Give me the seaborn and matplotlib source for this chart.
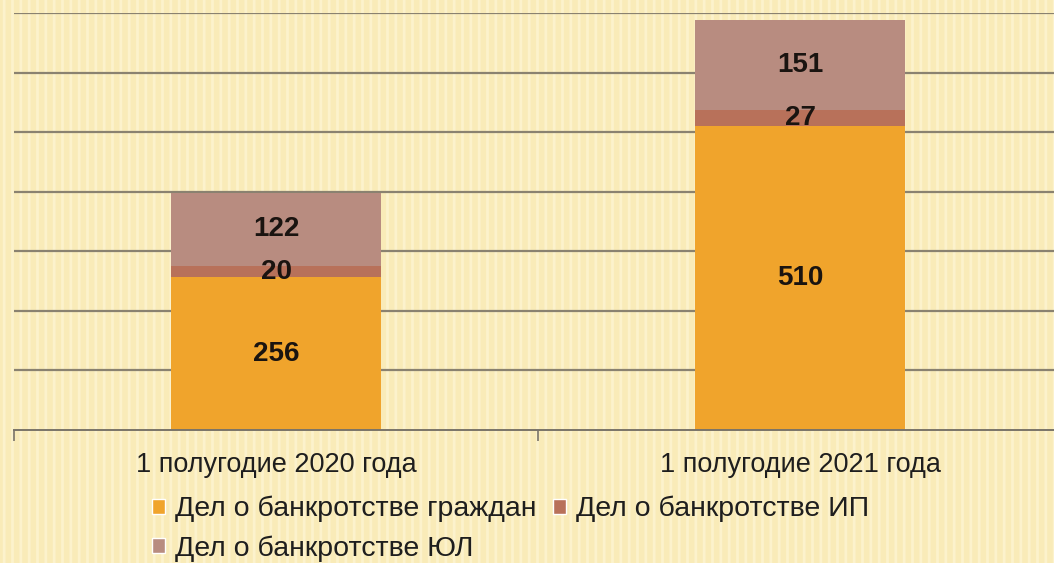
import numpy as np
import pandas as pd
import matplotlib
matplotlib.use("Agg")
import matplotlib.pyplot as plt
from matplotlib.patches import Patch, Rectangle
import seaborn as sns

# данные
categories = ['1 полугодие 2020 года', '1 полугодие 2021 года']
grazhdan = [256, 510]
ip = [20, 27]
ul = [122, 151]
series_names = ['Дел о банкротстве граждан', 'Дел о банкротстве ИП', 'Дел о банкротстве ЮЛ']
colors = ['#F0A42C', '#B8715A', '#B88C80']

sns.set_theme(style='white')
plt.rcParams['font.family'] = ['Liberation Sans', 'DejaVu Sans']
plt.rcParams['hatch.linewidth'] = 2.0

df = pd.DataFrame({'cat': categories, 'g': grazhdan, 'ip': ip, 'ul': ul})
df['g_ip'] = df['g'] + df['ip']
df['total'] = df['g_ip'] + df['ul']

fig = plt.figure(figsize=(10.54, 5.63), dpi=100)
fig.patch.set_facecolor('#F8E8AE')
# фон с полосками
fig.patches.append(Rectangle((0, 0), 1, 1, transform=fig.transFigure, facecolor='#F9EBB8',
                             edgecolor='#FCF2CC', hatch='||', lw=0, zorder=-10))

ax = fig.add_axes([14/1054, 1-430/563, (1062-14)/1054, (430-13)/563])
ax.set_facecolor('none')

# накопленные столбцы, сверху вниз
kw = dict(width=0.4, saturation=1, ax=ax, zorder=3, linewidth=0, edgecolor='none')
sns.barplot(data=df, x='cat', y='total', color=colors[2], **kw)
sns.barplot(data=df, x='cat', y='g_ip', color=colors[1], **kw)
sns.barplot(data=df, x='cat', y='g', color=colors[0], **kw)

ax.set_ylim(0, 700)
ax.set_xlim(-0.5, 1.5)
ax.set_yticks(range(100, 701, 100))
ax.set_yticklabels([])
ax.yaxis.grid(True, color='#8A8270', lw=1.6, zorder=0)
ax.set_axisbelow(True)
for s in ['left', 'top', 'right']:
    ax.spines[s].set_visible(False)
ax.spines['bottom'].set_color('#7A7468')
ax.spines['bottom'].set_linewidth(1.4)
ax.spines['bottom'].set_zorder(4)
ax.set_xlabel('')
ax.set_ylabel('')
ax.set_xticks([-0.5, 0.5, 1.5], minor=True)
ax.tick_params(axis='x', which='both', bottom=True)
ax.tick_params(axis='x', which='major', length=0, pad=16, labelsize=19.5, labelcolor='#1E1E1E')
ax.tick_params(axis='x', which='minor', length=8, width=1.2, color='#7A7468', direction='out')
ax.tick_params(axis='y', length=0)

# подписи значений
for i in range(len(categories)):
    for val, bottom in [(grazhdan[i], 0), (ip[i], grazhdan[i]), (ul[i], grazhdan[i] + ip[i])]:
        ax.text(i, bottom + val / 2, str(val), ha='center', va='center',
                fontsize=20, fontweight='bold', color='#1A1410', zorder=5)

handles = [Patch(facecolor=colors[0]), Patch(facecolor=colors[2]), Patch(facecolor=colors[1])]
labels = [series_names[0], series_names[2], series_names[1]]
fig.legend(handles, labels, ncol=2, loc='upper left', bbox_to_anchor=(152/1054, 1-496/563),
           frameon=False, fontsize=20.5, handlelength=0.45, handleheight=0.45, handletextpad=0.35,
           columnspacing=0.6, labelspacing=0.45, borderaxespad=0, borderpad=0,
           labelcolor='#1E1E1E')

fig.savefig('out.png', dpi=100, facecolor=fig.get_facecolor())
